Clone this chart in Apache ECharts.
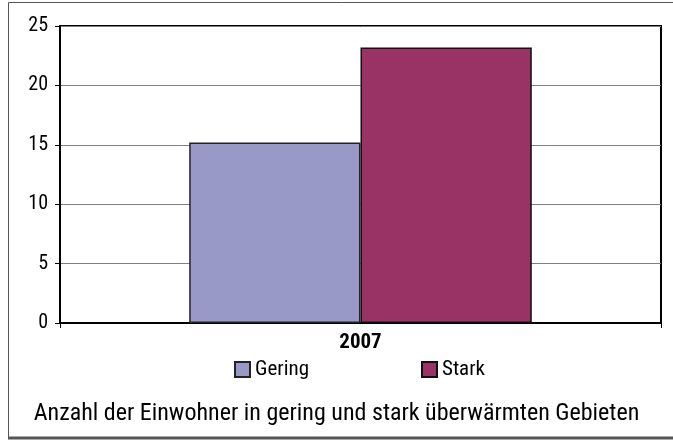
<!DOCTYPE html>
<html>
<head>
<meta charset="utf-8">
<script src="https://cdn.jsdelivr.net/npm/echarts@6/dist/echarts.min.js"></script>
<style>
  html, body { margin: 0; padding: 0; background: #fff; }
  #chart { width: 673px; height: 441px; }
</style>
</head>
<body>
<div id="chart"></div>
<script>
// Population in weakly and strongly overheated areas
const categories = ['2007'];
const gering = [15.2];
const stark = [23.2];
const yTicks = { min: 0, max: 25, interval: 5 };
const titleText = 'Anzahl der Einwohner in gering und stark überwärmten Gebieten';

const FONT = '"Liberation Sans Narrow", "Arial Narrow", "Roboto Condensed", "Liberation Sans", sans-serif';

const chart = echarts.init(document.getElementById('chart'), null, { renderer: 'canvas' });

chart.setOption({
  backgroundColor: '#fff',
  animation: false,
  textStyle: { fontFamily: FONT },
  graphic: [
    {
      type: 'rect',
      shape: { x: 8.5, y: 2.5, width: 680, height: 435 },
      style: { fill: 'none', stroke: '#555', lineWidth: 1 },
      z: -1
    },
    {
      type: 'line',
      shape: { x1: 8, y1: 438, x2: 673, y2: 438 },
      style: { stroke: '#555', lineWidth: 3 },
      z: -1
    }
  ],
  title: {
    text: titleText,
    left: 'center',
    top: 402,
    padding: 0,
    textStyle: { fontFamily: FONT, fontSize: 24, fontWeight: 'normal', color: '#000' }
  },
  legend: [
    {
      data: ['Gering'],
      left: 234, top: 359, padding: 0,
      itemWidth: 15, itemHeight: 15, itemGap: 6,
      icon: 'rect',
      textStyle: { fontFamily: FONT, fontSize: 21, color: '#000' }
    },
    {
      data: ['Stark'],
      left: 421, top: 359, padding: 0,
      itemWidth: 15, itemHeight: 15, itemGap: 6,
      icon: 'rect',
      textStyle: { fontFamily: FONT, fontSize: 21, color: '#000' }
    }
  ],
  grid: {
    left: 60, top: 26, width: 601, height: 297,
    show: true,
    borderColor: '#000',
    borderWidth: 2,
    backgroundColor: '#fff'
  },
  xAxis: {
    type: 'category',
    data: categories,
    axisLine: { lineStyle: { color: '#000', width: 2 } },
    axisTick: { show: true, length: 5, lineStyle: { color: '#000' } },
    axisLabel: { fontFamily: FONT, fontSize: 21, fontWeight: 'bold', color: '#000', margin: 9 }
  },
  yAxis: {
    type: 'value',
    min: yTicks.min, max: yTicks.max, interval: yTicks.interval,
    axisLine: { show: true, lineStyle: { color: '#000', width: 2 } },
    axisTick: { show: true, length: 5, lineStyle: { color: '#000' } },
    axisLabel: { fontFamily: FONT, fontSize: 20, color: '#000', margin: 12 },
    splitLine: { show: true, lineStyle: { color: '#808080', width: 1 } }
  },
  series: [
    {
      name: 'Gering',
      type: 'bar',
      data: gering,
      barGap: '0%',
      barCategoryGap: '43%',
      itemStyle: { color: '#9999c8', borderColor: '#222', borderWidth: 1.5 }
    },
    {
      name: 'Stark',
      type: 'bar',
      data: stark,
      barGap: '0%',
      barCategoryGap: '43%',
      itemStyle: { color: '#993366', borderColor: '#111', borderWidth: 1.5 }
    }
  ]
});
</script>
</body>
</html>
